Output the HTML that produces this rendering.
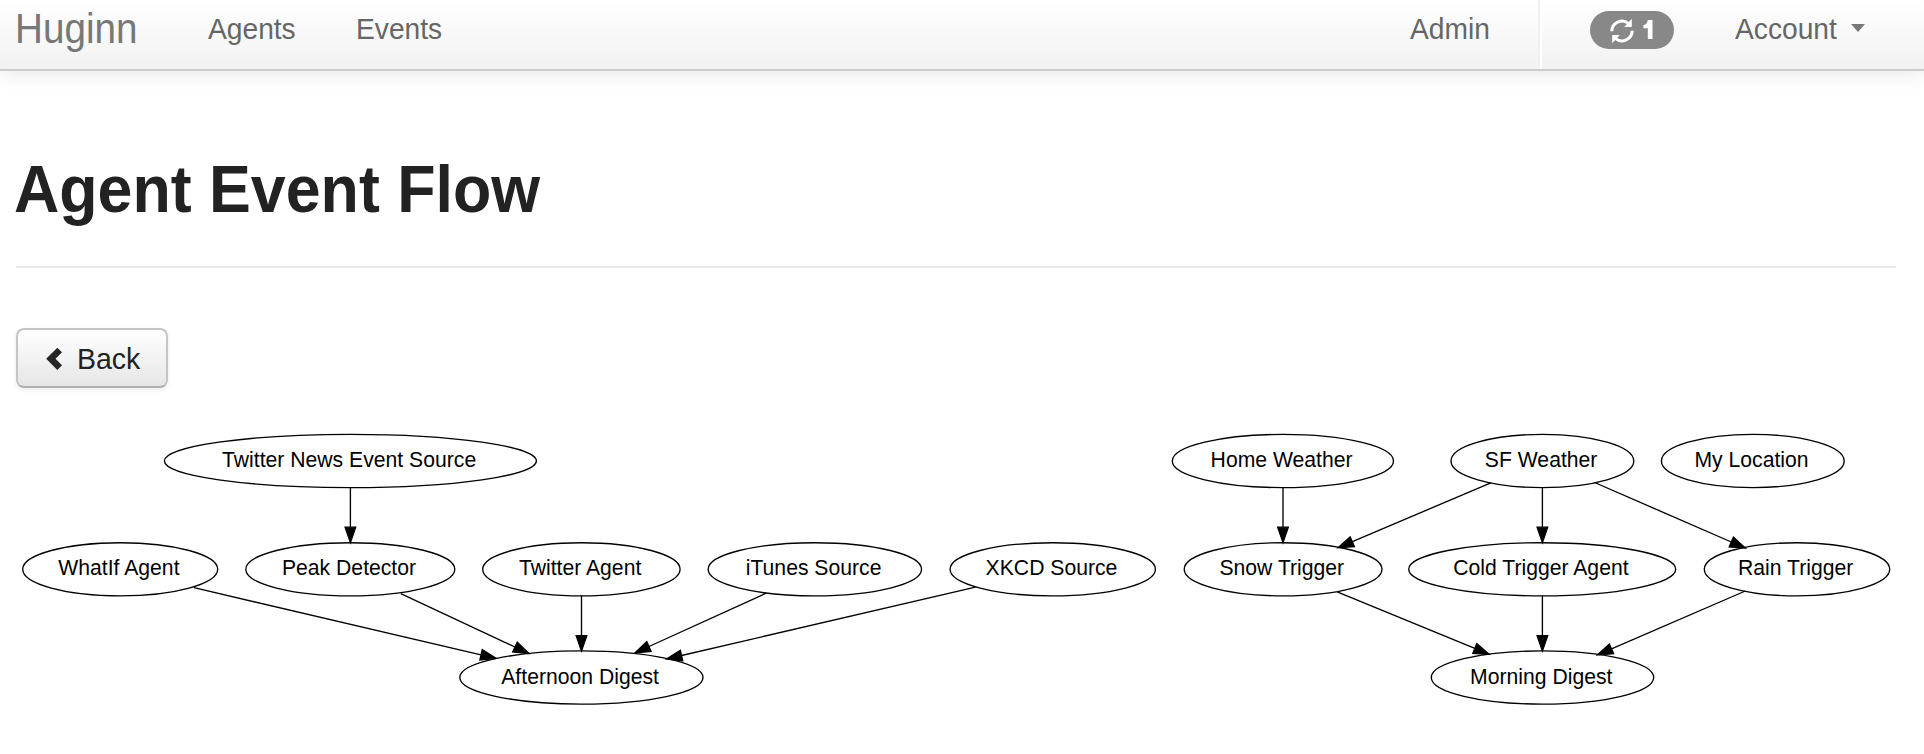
<!DOCTYPE html>
<html><head><meta charset="utf-8">
<style>
html,body{margin:0;padding:0;background:#fff;width:1924px;height:754px;overflow:hidden;position:relative;font-family:"Liberation Sans",sans-serif;}
.nav{position:absolute;left:0;top:0;width:1924px;height:69px;background:linear-gradient(#ffffff,#f2f2f2);border-bottom:2px solid #cbcbcb;box-shadow:0 2px 20px rgba(0,0,0,.1);}
.t{position:absolute;white-space:nowrap;line-height:1;}
.navt{color:#666;font-size:29.5px;transform:scaleX(0.955);transform-origin:0 0;}
.brand{color:#777;font-size:40px;}
.divv{position:absolute;left:1538px;top:0;width:2px;height:69px;background:#f0f0f0;border-right:2px solid #fff;}
.badge{position:absolute;left:1590px;top:11px;width:84px;height:38px;border-radius:19px;background:#888;}
.caret{position:absolute;left:1851px;top:24px;width:0;height:0;border-left:7.5px solid transparent;border-right:7.5px solid transparent;border-top:8px solid #777;}
h1{position:absolute;margin:0;left:16px;top:0;font-size:66px;font-weight:bold;color:#222;}
.hr{position:absolute;left:16px;top:266px;width:1880px;height:2px;background:#e8e8e8;}
.btn{position:absolute;left:16px;top:328px;width:148px;height:56px;border:2px solid #c5c5c5;border-bottom-color:#b0b0b0;border-radius:8px;background:linear-gradient(#ffffff,#e6e6e6);box-shadow:0 2px 4px rgba(0,0,0,.08);}
svg{position:absolute;left:0;top:0;}
</style></head><body>
<div class="nav">
  <div class="t brand" style="left:15px;top:8px;font-size:42px;transform:scaleX(0.92);transform-origin:0 0;">Huginn</div>
  <div class="t navt" style="left:207.5px;top:14px;">Agents</div>
  <div class="t navt" style="left:356px;top:14px;">Events</div>
  <div class="t navt" style="left:1409.5px;top:14px;">Admin</div>
  <div class="divv"></div>
  <div class="badge"></div>
  <svg style="left:1610px;top:19px;" width="24" height="24" viewBox="0 0 24 24"><g fill="none" stroke="#fff" stroke-width="3.1"><path d="M1.8,12.2A10.2,10.2 0 0 1 18.6,4.6"/><path d="M22.2,11.8A10.2,10.2 0 0 1 5.4,19.4"/></g><g fill="#fff"><path d="M14.2,7.9L21.8,7.9L21.8,-0.2Z"/><path d="M9.8,16.1L2.2,16.1L2.2,24.2Z"/></g></svg>
  <svg style="left:1640px;top:16px;" width="16" height="26" viewBox="0 0 16 26"><path d="M7.8,3.9H12.5V23H7.8V12.2H3.4V9Q7,8.6 7.8,3.9Z" fill="#fff"/></svg>
  <div class="t navt" style="left:1734.5px;top:14px;">Account</div>
  <div class="caret"></div>
</div>
<h1 class="t" style="top:156px;left:14px;transform:scaleX(0.95);transform-origin:0 0;">Agent Event Flow</h1>
<div class="hr"></div>
<div class="btn"></div>
<div class="t" style="left:77px;top:344px;font-size:30px;color:#222;transform:scaleX(0.95);transform-origin:0 0;">Back</div>
<svg style="left:40px;top:340px;" width="30" height="36" viewBox="0 0 30 36"><path d="M6.2,18.8L17.3,7.8L22,12.3L15.5,18.8L22,25.3L17.3,29.9Z" fill="#262626"/></svg>
<svg width="1924" height="754" viewBox="0 0 1924 754" id="g">
<g fill="none" stroke="#000" stroke-width="1.35">
<ellipse cx="350.4" cy="461.0" rx="186.0" ry="26.6"/>
<ellipse cx="1282.9" cy="461.0" rx="110.6" ry="26.6"/>
<ellipse cx="1542.4" cy="461.0" rx="91.4" ry="26.6"/>
<ellipse cx="1752.8" cy="461.0" rx="91.4" ry="26.6"/>
<ellipse cx="120.2" cy="569.3" rx="97.5" ry="26.6"/>
<ellipse cx="350.3" cy="569.3" rx="104.5" ry="26.6"/>
<ellipse cx="581.4" cy="569.3" rx="98.7" ry="26.6"/>
<ellipse cx="814.85" cy="569.3" rx="106.7" ry="26.6"/>
<ellipse cx="1052.75" cy="569.3" rx="102.7" ry="26.6"/>
<ellipse cx="1283.1" cy="569.3" rx="98.9" ry="26.6"/>
<ellipse cx="1542.2" cy="569.3" rx="133.5" ry="26.6"/>
<ellipse cx="1797" cy="569.3" rx="92.7" ry="26.6"/>
<ellipse cx="581.4" cy="677.5" rx="121.6" ry="26.6"/>
<ellipse cx="1542.5" cy="677.5" rx="111.2" ry="26.6"/>
<path d="M350.4,487.5L350.4,527.2"/>
<path d="M194.0,587.7L481.0,654.8"/>
<path d="M400.8,593.7L514.9,647.0"/>
<path d="M581.5,595.6L581.5,635.6"/>
<path d="M766.2,593.2L649.0,646.5"/>
<path d="M975.5,587.2L681.6,655.5"/>
<path d="M1283.0,487.3L1283.0,527.2"/>
<path d="M1490.8,482.8L1352.4,541.7"/>
<path d="M1542.4,487.3L1542.4,527.2"/>
<path d="M1594.6,482.5L1731.3,542.0"/>
<path d="M1337.2,591.9L1474.8,648.4"/>
<path d="M1542.4,595.6L1542.4,635.6"/>
<path d="M1745.3,591.0L1611.5,648.8"/>
</g><g fill="#000" stroke="#000" stroke-width="1.2">
<path d="M350.4,542.8L345.0,527.2L355.8,527.2Z"/>
<path d="M496.2,658.3L479.8,660.0L482.2,649.5Z"/>
<path d="M529.0,653.6L512.6,651.9L517.2,642.1Z"/>
<path d="M581.5,651.2L576.1,635.6L586.9,635.6Z"/>
<path d="M634.8,653.0L646.8,641.6L651.2,651.5Z"/>
<path d="M666.4,659.0L680.4,650.2L682.8,660.7Z"/>
<path d="M1283.0,542.8L1277.6,527.2L1288.4,527.2Z"/>
<path d="M1338.0,547.8L1350.2,536.7L1354.5,546.7Z"/>
<path d="M1542.4,542.8L1537.0,527.2L1547.8,527.2Z"/>
<path d="M1745.6,548.2L1729.1,546.9L1733.4,537.0Z"/>
<path d="M1489.2,654.3L1472.7,653.4L1476.8,643.4Z"/>
<path d="M1542.4,651.2L1537.0,635.6L1547.8,635.6Z"/>
<path d="M1597.2,655.0L1609.4,643.9L1613.7,653.8Z"/>
</g><g font-family="Liberation Sans" font-size="22.3" fill="#000" text-anchor="middle">
<text transform="translate(349.1,467.1) scale(0.95,1)">Twitter News Event Source</text>
<text transform="translate(1281.6,467.1) scale(0.95,1)">Home Weather</text>
<text transform="translate(1541.1,467.1) scale(0.95,1)">SF Weather</text>
<text transform="translate(1751.5,467.1) scale(0.95,1)">My Location</text>
<text transform="translate(118.9,575.4) scale(0.95,1)">WhatIf Agent</text>
<text transform="translate(349.0,575.4) scale(0.95,1)">Peak Detector</text>
<text transform="translate(580.1,575.4) scale(0.95,1)">Twitter Agent</text>
<text transform="translate(813.6,575.4) scale(0.95,1)">iTunes Source</text>
<text transform="translate(1051.5,575.4) scale(0.95,1)">XKCD Source</text>
<text transform="translate(1281.8,575.4) scale(0.95,1)">Snow Trigger</text>
<text transform="translate(1540.9,575.4) scale(0.95,1)">Cold Trigger Agent</text>
<text transform="translate(1795.7,575.4) scale(0.95,1)">Rain Trigger</text>
<text transform="translate(580.1,683.6) scale(0.95,1)">Afternoon Digest</text>
<text transform="translate(1541.2,683.6) scale(0.95,1)">Morning Digest</text>
</g>
</svg>
</body></html>
